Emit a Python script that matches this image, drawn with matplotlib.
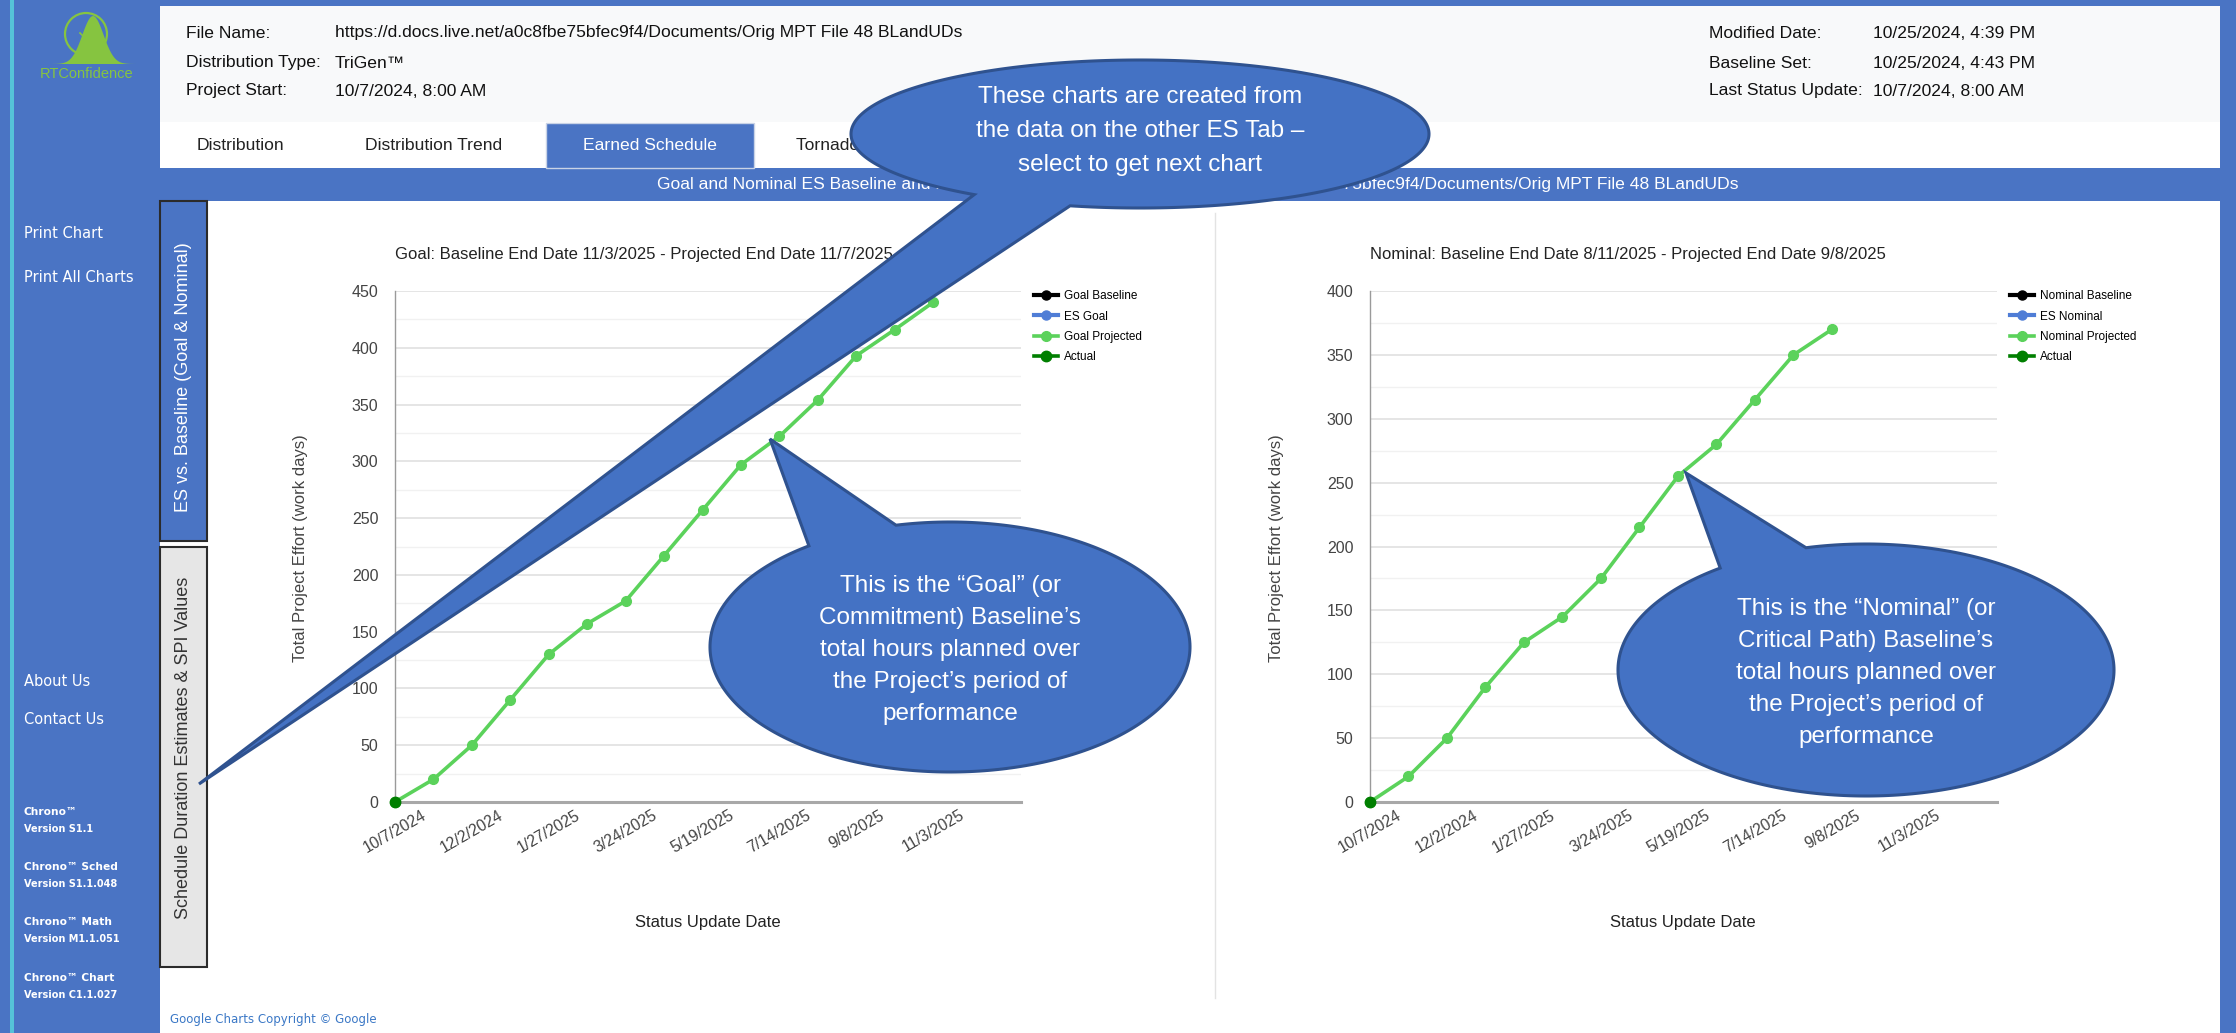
import datetime as dt
import numpy as np
import matplotlib.pyplot as plt
from matplotlib import font_manager
from matplotlib.patches import Rectangle, Polygon, Circle

W, H = 2236, 1033

# --- Daten ---
status_dates = ["10/7/2024", "11/4/2024", "12/2/2024", "12/30/2024", "1/27/2025",
                "2/24/2025", "3/24/2025", "4/21/2025", "5/19/2025", "6/16/2025",
                "7/14/2025", "8/11/2025", "9/8/2025", "10/6/2025", "11/3/2025"]
goal_projected = [0, 20, 50, 90, 130, 157, 177, 217, 257, 297, 322, 354, 393, 416, 440]
nominal_projected = [0, 20, 50, 90, 125, 145, 175, 215, 255, 280, 315, 350, 370]
actual = [0]
tick_labels = ["10/7/2024", "12/2/2024", "1/27/2025", "3/24/2025",
               "5/19/2025", "7/14/2025", "9/8/2025", "11/3/2025"]
goal_names = ["Goal Baseline", "ES Goal", "Goal Projected", "Actual"]
nominal_names = ["Nominal Baseline", "ES Nominal", "Nominal Projected", "Actual"]
goal_title = "Goal: Baseline End Date 11/3/2025 - Projected End Date 11/7/2025"
nominal_title = "Nominal: Baseline End Date 8/11/2025 - Projected End Date 9/8/2025"

BLUE = "#4A74C4"
CALLOUT = "#4472C4"
CALLOUT_EDGE = "#2F528F"
GREEN = "#5BD25B"
DARK_GREEN = "#007F00"
ES_BLUE = "#4F7DD6"
LOGO = "#86C440"

installed = {f.name for f in font_manager.fontManager.ttflist}
SANS = "Liberation Sans"
NARROW = "Liberation Sans Narrow" if "Liberation Sans Narrow" in installed else "Liberation Sans"
CALL_FS = 19 if NARROW != "Liberation Sans" else 17.5
plt.rcParams["font.family"] = [SANS, "DejaVu Sans"]


def to_date(s):
    return dt.datetime.strptime(s, "%m/%d/%Y")


fig = plt.figure(figsize=(W / 100, H / 100), dpi=100)
page = fig.add_axes([0, 0, 1, 1], zorder=0)
page.set_xlim(0, W)
page.set_ylim(H, 0)
page.axis("off")


def rect(x0, y0, x1, y1, **kw):
    page.add_patch(Rectangle((x0, y0), x1 - x0, y1 - y0, **kw))


def box(x0, y0, x1, y1):
    return [x0 / W, 1 - y1 / H, (x1 - x0) / W, (y1 - y0) / H]


# Hintergrund / Seitenrahmen
rect(0, 0, W, H, fc=BLUE, ec="none")
rect(10, 0, 14, H, fc="#55C2D8", ec="none")
rect(160, 6, 2220, 122, fc="#F8F9FA", ec="none")
rect(160, 122, 2220, 168, fc="white", ec="none")
rect(160, 168, 2220, 201, fc=BLUE, ec="none")
rect(160, 201, 2220, H, fc="white", ec="none")
rect(546, 123, 754, 168, fc=BLUE, ec="#C9D3E6", lw=1)

# Logo
bx = np.linspace(50, 136, 80)
by = 64 - 48 * np.exp(-((bx - 93) / 15) ** 2)
page.add_patch(Polygon(list(zip(bx, by)) + [(136, 64), (50, 64)], closed=True,
                       fc=LOGO, ec="none"))
page.add_patch(Circle((86, 34), 21, fc="none", ec=LOGO, lw=1.6))
page.plot([80, 85, 93], [33, 38, 26], color=LOGO, lw=1.2)
page.text(87, 74, "RTConfidence", color=LOGO, fontsize=10.5, ha="center", va="center")

# Kopfzeile
hdr = dict(fontsize=12.6, color="#111", va="center", ha="left")
for y, lab, val in [(33, "File Name:", "https://d.docs.live.net/a0c8fbe75bfec9f4/Documents/Orig MPT File 48 BLandUDs"),
                    (63, "Distribution Type:", "TriGen™"),
                    (91, "Project Start:", "10/7/2024, 8:00 AM")]:
    page.text(186, y, lab, **hdr)
    page.text(335, y, val, **hdr)
for y, lab, val in [(33, "Modified Date:", "10/25/2024, 4:39 PM"),
                    (63, "Baseline Set:", "10/25/2024, 4:43 PM"),
                    (91, "Last Status Update:", "10/7/2024, 8:00 AM")]:
    page.text(1709, y, lab, **hdr)
    page.text(1873, y, val, **hdr)

tab = dict(fontsize=12.6, va="center", color="#222")
page.text(240, 146, "Distribution", ha="center", **tab)
page.text(434, 146, "Distribution Trend", ha="center", **tab)
page.text(650, 146, "Earned Schedule", ha="center", fontsize=12.6, va="center", color="white")
page.text(796, 146, "Tornado Chart", ha="left", **tab)
page.text(1198, 185, "Goal and Nominal ES Baseline and Projected End Dates - "
          "https://d.docs.live.net/a0c8fbe75bfec9f4/Documents/Orig MPT File 48 BLandUDs",
          ha="center", va="center", fontsize=12.6, color="white")

# Seitenleiste
side = dict(color="white", family="DejaVu Sans", va="center", ha="left")
page.text(24, 234, "Print Chart", fontsize=10.5, **side)
page.text(24, 277, "Print All Charts", fontsize=10.5, **side)
page.text(24, 682, "About Us", fontsize=10.5, **side)
page.text(24, 720, "Contact Us", fontsize=10.5, **side)
for y, name, ver in [(812, "Chrono™", "Version S1.1"), (867, "Chrono™ Sched", "Version S1.1.048"),
                     (922, "Chrono™ Math", "Version M1.1.051"), (978, "Chrono™ Chart", "Version C1.1.027")]:
    page.text(24, y, name, fontsize=7.7, fontweight="bold", **side)
    page.text(24, y + 17, ver, fontsize=7, fontweight="bold", **side)

rect(160, 201, 207, 541, fc=BLUE, ec="#2B2B2B", lw=1.5)
rect(160, 547, 207, 967, fc="#E6E6E6", ec="#2B2B2B", lw=1.5)
page.text(183, 377, "ES vs. Baseline (Goal & Nominal)", rotation=90, color="white",
          fontsize=13, ha="center", va="center")
page.text(183, 748, "Schedule Duration Estimates & SPI Values", rotation=90, color="#333",
          fontsize=13, ha="center", va="center")
page.plot([1215, 1215], [213, 998], color="#E3E3E3", lw=1)
page.text(170, 1020, "Google Charts Copyright © Google", color="#3B78C6",
          family="DejaVu Sans", fontsize=8.5, va="center", ha="left")


# Diagramme
def draw_chart(px, values, ymax, names, title):
    x0, x1 = px
    ax = fig.add_axes(box(x0, 291, x1, 802), zorder=1)
    ax.set_facecolor("none")
    dates = [to_date(s) for s in status_dates[:len(values)]]
    ax.plot([], [], color="black", lw=3, marker="o", ms=6.5, label=names[0])
    ax.plot([], [], color=ES_BLUE, lw=3, marker="o", ms=6.5, label=names[1])
    ax.plot(dates, values, color=GREEN, lw=2.6, marker="o", ms=7,
            clip_on=False, zorder=3, label=names[2])
    ax.plot(dates[:len(actual)], actual, color=DARK_GREEN, lw=2.6, marker="o", ms=7.5,
            clip_on=False, zorder=4, label=names[3])

    start = to_date(status_dates[0])
    ax.set_xlim(start, start + dt.timedelta(days=456))
    ax.set_ylim(0, ymax)
    ax.set_yticks(range(0, ymax + 1, 50))
    ax.set_yticks(range(25, ymax, 50), minor=True)
    ax.grid(which="major", axis="y", color="#E0E0E0", lw=1.2)
    ax.grid(which="minor", axis="y", color="#F1F1F1", lw=1.0)
    ax.set_axisbelow(True)
    ax.set_xticks([to_date(s) for s in tick_labels])
    ax.set_xticklabels(tick_labels, rotation=30, ha="center")
    ax.tick_params(axis="y", which="both", length=0, pad=12, labelsize=11.5, labelcolor="#444")
    ax.tick_params(axis="x", which="both", length=0, pad=4, labelsize=11.3, labelcolor="#444")
    for s in ("top", "right"):
        ax.spines[s].set_visible(False)
    ax.spines["left"].set_color("#9A9A9A")
    ax.spines["left"].set_linewidth(1)
    ax.spines["bottom"].set_color("#A8A8A8")
    ax.spines["bottom"].set_linewidth(2.2)

    ax.legend(loc="upper left", bbox_to_anchor=(x1 + 13, 290), bbox_transform=page.transData,
              frameon=False, fontsize=8.5, handlelength=2.0, handletextpad=0.5,
              labelspacing=0.72, borderpad=0, borderaxespad=0)
    page.text(x0, 255, title, fontsize=12, color="#222", ha="left", va="center")
    page.text(x0 - 94, 548, "Total Project Effort (work days)", rotation=90, fontsize=12,
              color="#444", ha="center", va="center")
    page.text(x0 + 313, 923, "Status Update Date", fontsize=12, color="#222",
              ha="center", va="center")
    return ax


draw_chart((395, 1021), goal_projected, 450, goal_names, goal_title)
draw_chart((1370, 1997), nominal_projected, 400, nominal_names, nominal_title)

# Sprechblasen
top = fig.add_axes([0, 0, 1, 1], zorder=10)
top.set_xlim(0, W)
top.set_ylim(H, 0)
top.axis("off")
top.patch.set_alpha(0)


def bubble(cx, cy, a, b, t1, t2, tip, text, ty, ls):
    t = np.radians(np.linspace(t2, t1 + 360, 300))
    pts = list(zip(cx + a * np.cos(t), cy + b * np.sin(t))) + [tip]
    top.add_patch(Polygon(pts, closed=True, fc=CALLOUT, ec=CALLOUT_EDGE, lw=2.2,
                          joinstyle="miter"))
    top.text(cx, ty, text, color="white", family=[NARROW, "DejaVu Sans"], fontsize=CALL_FS,
             ha="center", va="center", linespacing=ls)


bubble(1140, 134, 289, 74, 104, 125, (199, 784),
       "These charts are created from\nthe data on the other ES Tab –\nselect to get next chart", 131, 1.72)
bubble(950, 647, 240, 125, 234, 257, (770, 439),
       "This is the “Goal” (or\nCommitment) Baseline’s\ntotal hours planned over\n"
       "the Project’s period of\nperformance", 650, 1.6)
bubble(1866, 670, 248, 126, 234, 256, (1686, 473),
       "This is the “Nominal” (or\nCritical Path) Baseline’s\ntotal hours planned over\n"
       "the Project’s period of\nperformance", 673, 1.6)

fig.savefig("out.png", dpi=100)
